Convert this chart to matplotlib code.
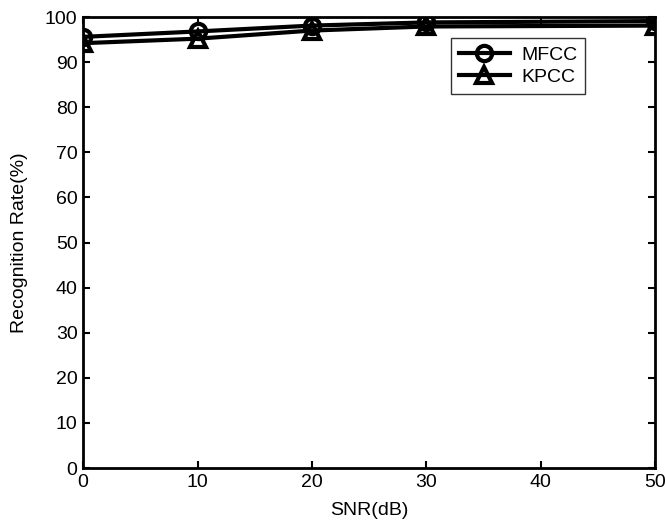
import matplotlib.pyplot as plt

plt.rcParams['font.family'] = ['Liberation Sans', 'DejaVu Sans']

snr = [0, 10, 20, 30, 50]
mfcc = [95.6, 96.8, 98.1, 98.8, 99.1]
kpcc = [94.2, 95.2, 97.0, 97.9, 98.1]

fig = plt.figure(figsize=(6.65, 5.22), dpi=100)
ax = fig.add_axes([0.125, 0.1034, 0.86, 0.864])

ax.plot(snr, mfcc, 'k-o', lw=3, ms=11, mfc='none', mew=3, label='MFCC')
ax.plot(snr, kpcc, 'k-^', lw=3, ms=12, mfc='none', mew=3, label='KPCC')

ax.set_xlim(0, 50)
ax.set_ylim(0, 100)
ax.set_xticks(range(0, 51, 10))
ax.set_yticks(range(0, 101, 10))
ax.tick_params(direction='in', length=5, width=1.5, labelsize=14, top=True, right=True, pad=4)
for s in ax.spines.values():
    s.set_linewidth(2)
ax.set_xlabel('SNR(dB)', fontsize=14, labelpad=8)
ax.set_ylabel('Recognition Rate(%)', fontsize=14, labelpad=12)

leg = ax.legend(loc='upper right', bbox_to_anchor=(0.878, 0.953), fontsize=14,
                fancybox=False, edgecolor='black', handlelength=2.6, borderpad=0.4,
                labelspacing=0.25, handletextpad=0.6, borderaxespad=0)
leg.get_frame().set_linewidth(1)

fig.savefig('out.png', dpi=100)
